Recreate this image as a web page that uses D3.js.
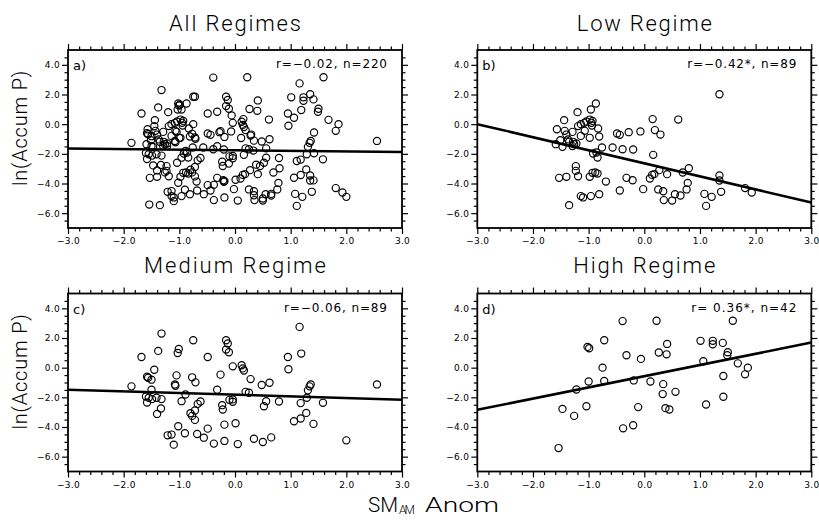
<!DOCTYPE html>
<html><head><meta charset="utf-8">
<script src="https://cdn.jsdelivr.net/npm/d3@7"></script>
<style>body{margin:0;background:#fff}svg{display:block}</style>
</head><body>
<svg id="chart" width="819" height="527"></svg>
<script>
// ---- data (SM anomaly, ln(Accum P)) ----
const lowRegime = [
[-1.57,-0.34],[-1.44,0.27],[-1.43,-0.45],[-1.51,-1.08],[-1.59,-1.35],[-1.47,-1.53],[-1.40,-0.70],[-1.35,-1.19],[-1.29,-0.52],[-1.28,-1.19],
[-1.29,-1.48],[-1.22,-1.30],[-1.20,0.81],[-1.19,-0.13],[-1.14,0.00],[-1.14,-0.79],[-1.08,0.09],[-1.07,-0.45],[-0.98,0.31],[-0.96,0.99],
[-0.95,0.09],[-0.94,-0.09],[-0.87,1.39],[-0.83,-0.29],[-0.98,-0.92],[-0.81,-0.83],[-0.92,-1.98],[-0.84,-2.25],[-0.86,-1.91],[-0.76,-1.57],
[-0.57,-1.57],[-0.39,-1.69],[-0.49,-0.63],[-0.44,-0.72],[-0.28,-0.54],[-1.23,-2.83],[-1.23,-3.15],[-1.53,-3.62],[-1.40,-3.55],[-1.19,-3.51],
[-0.98,-3.55],[-0.93,-3.28],[-0.88,-3.26],[-0.84,-3.33],[-0.69,-3.87],[-0.44,-4.47],[-0.32,-3.62],[-1.35,-5.46],[-1.14,-4.85],[-1.10,-4.94],
[-0.96,-4.85],[-0.81,-4.72],[-1.37,-1.03],[-1.26,-1.35],[-1.04,0.18],[-0.93,0.22],
[-0.20,-1.71],[-0.07,-0.49],[0.15,0.34],[0.19,-0.40],[0.29,-0.70],[0.61,0.31],[1.35,2.02],[0.16,-2.07],[-0.21,-3.78],[-0.02,-4.38],
[0.10,-3.66],[0.14,-3.42],[0.18,-3.37],[0.27,-3.10],[0.25,-4.40],[0.34,-4.52],[0.35,-5.12],[0.41,-3.37],[0.50,-5.15],[0.55,-4.72],
[0.65,-4.81],[0.69,-3.26],[0.78,-3.96],[0.76,-4.40],[0.80,-2.97],[1.08,-4.70],[1.11,-5.51],[1.21,-4.90],[1.35,-3.46],[1.35,-3.80],
[1.38,-4.56],[1.81,-4.31],[1.93,-4.61]
];
const mediumRegime = [
[-1.86,-1.26],[-1.68,0.72],[-1.32,2.30],[-1.38,1.13],[-1.45,-0.14],[-1.58,-0.61],[-1.56,-0.68],[-1.50,-0.81],[-1.50,-1.49],[-1.60,-1.94],
[-1.55,-2.03],[-1.49,-2.12],[-1.41,-2.03],[-1.32,-2.12],[-1.58,-2.35],[-1.33,-2.75],[-1.40,-3.12],[-1.21,-4.56],[-1.14,-4.51],[-1.10,-5.19],
[-1.02,-3.95],[-0.90,-4.42],[-1.08,-1.13],[-1.07,-1.22],[-1.05,-0.52],[-1.01,1.26],[-1.03,0.99],[-0.96,-2.26],[-0.89,-1.81],[-0.75,1.85],
[-0.77,-0.65],[-0.71,-0.99],[-0.80,-3.07],[-0.77,-3.25],[-0.72,-2.89],[-0.72,-3.52],[-0.67,-2.44],[-0.62,-2.28],[-0.68,-4.47],[-0.56,-4.72],
[-0.49,0.72],[-0.49,-4.11],[-0.38,-5.12],[-0.32,-1.49],[-0.26,-0.47],[-0.23,-2.53],[-0.22,-2.82],[-0.19,-3.84],[-0.19,-4.94],[-0.16,1.85],
[-0.13,1.63],[-0.16,1.22],[-0.11,1.04],[-0.04,0.09],[-0.10,-2.17],[-0.04,-2.14],[-0.04,-2.30],[0.01,-3.75],[0.05,-5.15],
[0.12,0.16],[0.16,-0.19],[0.28,-0.77],[0.19,-1.63],[0.25,-1.69],[0.34,-4.79],[0.50,-5.01],[0.48,-1.17],[0.62,-1.02],[0.52,-2.60],
[0.56,-2.26],[0.65,-4.70],[0.79,-2.28],[0.95,0.72],[0.96,-0.11],[1.19,0.95],[1.16,2.75],[1.18,-2.39],[1.06,-3.61],[1.18,-3.43],
[1.28,-3.05],[1.29,-2.03],[1.31,-1.53],[1.34,-1.26],[1.36,-1.13],[1.41,-3.79],[1.58,-2.37],[2.00,-4.90],[2.55,-1.13],[0.14,-0.05]
];
const highRegime = [
[-1.54,-5.42],[-1.47,-2.78],[-1.26,-3.25],[-1.22,-1.47],[-1.04,-2.60],[-1.00,-0.93],[-1.02,1.40],[-0.99,1.31],[-0.75,0.00],[-0.72,1.85],
[-0.72,-0.90],[-0.39,3.14],[-0.38,-4.09],[-0.32,0.84],
[-0.19,-0.86],[-0.11,-2.66],[-0.20,-3.88],[-0.06,0.59],[0.11,-0.93],[0.22,3.16],[0.26,1.02],[0.41,1.60],[0.40,0.90],[0.34,-1.11],
[0.33,-1.78],[0.56,-1.63],[0.38,-2.73],[0.45,-2.82],[1.01,1.81],[1.23,1.81],[1.23,1.58],[1.06,0.43],[1.11,-2.48],[1.41,1.67],
[1.50,1.04],[1.49,0.84],[1.59,3.16],[1.68,0.29],[1.86,0.00],[1.81,-0.45],[1.42,-0.56],[1.42,-1.96]
];
const allRegimes = lowRegime.concat(mediumRegime, highRegime);

const panelTitles = ["All Regimes", "Low Regime", "Medium Regime", "High Regime"];
const panelLetters = ["a)", "b)", "c)", "d)"];
const statLabels = ["r=\u22120.02, n=220", "r=\u22120.42*, n=89", "r=\u22120.06, n=89", "r= 0.36*, n=42"];
// regression line values at x = -3 and x = 3
const fitAtLeft  = [-1.64, 0.00, -1.49, -2.84];
const fitAtRight = [-1.87, -5.28, -2.16, 1.69];
const xTicks = [-3, -2, -1, 0, 1, 2, 3];
const yTicks = [-6, -4, -2, 0, 2, 4];
const xDomain = [-3, 3];
const yDomain = [-7, 5];
const yAxisLabel = "ln(Accum P)";

// ---- layout ----
const datasets = [allRegimes, lowRegime, mediumRegime, highRegime];
const panelLeft = [68, 477.3, 68, 477.3];
const panelTop = [50, 50, 293.5, 293.5];
const pw = 334, ph = 178;
const titleWidths = [132, 135, 182, 142];
const statWidths = [111, 109, 103, 105];
const titleFont = "Roboto, Liberation Sans, Arial, sans-serif";
const svg = d3.select("#chart");
const fmt = d3.format(".1f");
const xMinor = d3.range(-30, 31, 2).map(v => v / 10).filter(v => Math.abs(v - Math.round(v)) > 1e-6);
const yMinor = d3.range(-13, 10, 1).map(v => v / 2).filter(v => !(Number.isInteger(v) && v % 2 === 0));

for (let i = 0; i < 4; i++) {
  const g = svg.append("g").attr("transform", `translate(${panelLeft[i]},${panelTop[i]})`);
  const x = d3.scaleLinear().domain(xDomain).range([0, pw]);
  const y = d3.scaleLinear().domain(yDomain).range([ph, 0]);

  const styleAxis = (sel) => {
    sel.select(".domain").remove();
    sel.selectAll(".tick line").attr("stroke", "#000").attr("stroke-width", 1.2);
    sel.attr("font-family", null).attr("font-size", null);
    sel.selectAll("text").attr("font-family", "DejaVu Sans, sans-serif").attr("font-size", 9)
       .attr("letter-spacing", 0.3).attr("fill", "#000");
  };
  // bottom
  g.append("g").attr("transform", `translate(0,${ph})`)
    .call(d3.axisBottom(x).tickValues(xTicks).tickSize(6).tickPadding(4).tickFormat(fmt)).call(styleAxis);
  g.append("g").attr("transform", `translate(0,${ph})`)
    .call(d3.axisBottom(x).tickValues(xMinor).tickSize(3.5).tickFormat("")).call(styleAxis);
  // top
  g.append("g").call(d3.axisTop(x).tickValues(xTicks).tickSize(6).tickFormat("")).call(styleAxis);
  g.append("g").call(d3.axisTop(x).tickValues(xMinor).tickSize(3.5).tickFormat("")).call(styleAxis);
  // left
  g.append("g").call(d3.axisLeft(y).tickValues(yTicks).tickSize(6).tickPadding(2).tickFormat(fmt)).call(styleAxis);
  g.append("g").call(d3.axisLeft(y).tickValues(yMinor).tickSize(3.5).tickFormat("")).call(styleAxis);
  // right
  g.append("g").attr("transform", `translate(${pw},0)`)
    .call(d3.axisRight(y).tickValues(yTicks).tickSize(6).tickFormat("")).call(styleAxis);
  g.append("g").attr("transform", `translate(${pw},0)`)
    .call(d3.axisRight(y).tickValues(yMinor).tickSize(3.5).tickFormat("")).call(styleAxis);

  // points
  g.append("g").selectAll("circle").data(datasets[i]).join("circle")
    .attr("cx", d => x(d[0])).attr("cy", d => y(d[1])).attr("r", 3.6)
    .attr("fill", "none").attr("stroke", "#000").attr("stroke-width", 1.15);

  // regression line
  g.append("line")
    .attr("x1", x(xDomain[0])).attr("y1", y(fitAtLeft[i]))
    .attr("x2", x(xDomain[1])).attr("y2", y(fitAtRight[i]))
    .attr("stroke", "#000").attr("stroke-width", 2.5);

  // frame
  g.append("rect").attr("width", pw).attr("height", ph)
    .attr("fill", "none").attr("stroke", "#000").attr("stroke-width", 1.8);

  // panel letter
  g.append("text").attr("x", 5).attr("y", 20).text(panelLetters[i])
    .attr("font-family", "DejaVu Sans, sans-serif").attr("font-size", 13).attr("fill", "#000");
  // stats
  g.append("text").attr("x", pw - 15 - statWidths[i]).attr("y", 18).text(statLabels[i])
    .attr("textLength", statWidths[i]).attr("lengthAdjust", "spacing")
    .attr("font-family", "DejaVu Sans, sans-serif").attr("font-size", 12).attr("fill", "#000");
  // title
  g.append("text").attr("x", pw / 2 - titleWidths[i] / 2).attr("y", i < 2 ? -19 : -20.5).text(panelTitles[i])
    .attr("textLength", titleWidths[i]).attr("lengthAdjust", "spacing")
    .attr("font-family", titleFont).attr("font-weight", 300).attr("font-size", 22).attr("fill", "#000");
  // y-axis label on left panels
  if (i % 2 === 0) {
    svg.append("text")
      .attr("transform", `translate(27,${panelTop[i] + ph / 2 - 11}) rotate(-90)`)
      .attr("text-anchor", "middle").text(yAxisLabel)
      .attr("font-family", titleFont).attr("font-weight", 300).attr("font-size", 20)
      .attr("letter-spacing", 0.8).attr("fill", "#000");
  }
}

// x-axis title: SM_AM Anom
const xtStyle = s => s.attr("font-family", titleFont).attr("font-weight", 300).attr("fill", "#000");
svg.append("text").attr("x", 368).attr("y", 512).text("SM").attr("font-size", 21)
  .attr("textLength", 30).attr("lengthAdjust", "spacingAndGlyphs").call(xtStyle);
svg.append("text").attr("x", 399).attr("y", 514).text("AM").attr("font-size", 12)
  .attr("textLength", 16).attr("lengthAdjust", "spacing").call(xtStyle);
svg.append("text").attr("x", 425).attr("y", 512).text("Anom").attr("font-size", 21)
  .attr("textLength", 74).attr("lengthAdjust", "spacingAndGlyphs").call(xtStyle);
</script>
</body></html>
